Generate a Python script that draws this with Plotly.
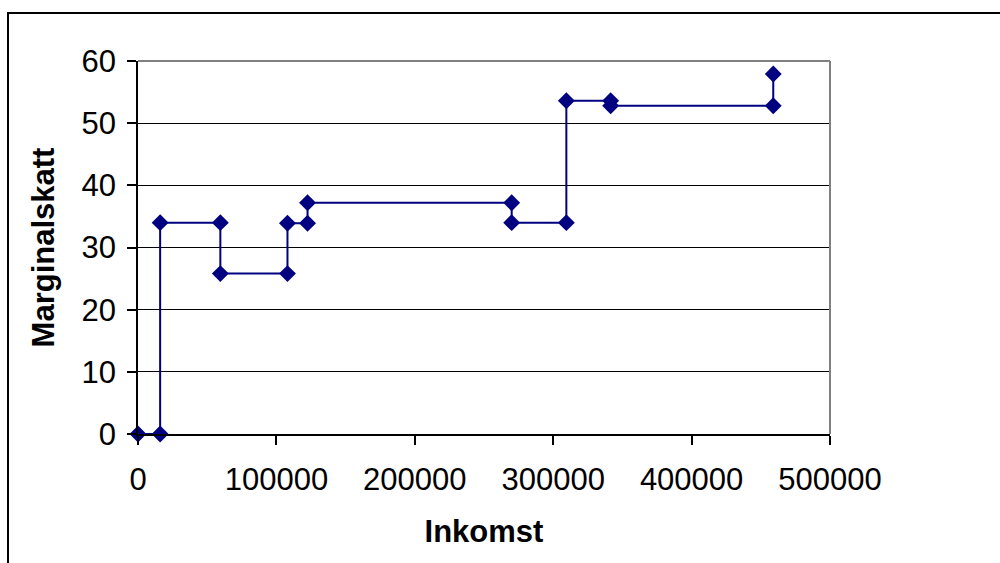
import plotly.graph_objects as go

# Data (Inkomst vs Marginalskatt, step-like path)
inkomst = [0, 16000, 16000, 59500, 59500, 108000, 108000, 122500, 122500,
           270000, 270000, 309500, 309500, 341500, 341500, 459000, 459000]
marginalskatt = [0, 0, 34, 34, 25.8, 25.8, 33.9, 33.9, 37.2,
                 37.2, 34, 34, 53.6, 53.6, 52.8, 52.8, 57.9]

x_ticks = [0, 100000, 200000, 300000, 400000, 500000]
x_ticklabels = ["0", "100000", "200000", "300000", "400000", "500000"]
y_ticks = [0, 10, 20, 30, 40, 50, 60]

FONT = "Liberation Sans, Arial, sans-serif"
NAVY = "#000080"

fig = go.Figure()
fig.add_trace(go.Scatter(
    x=inkomst, y=marginalskatt, mode="lines+markers",
    line=dict(color=NAVY, width=2),
    marker=dict(symbol="diamond", size=13, color=NAVY),
    cliponaxis=False, showlegend=False,
))

fig.update_layout(
    width=1000, height=563,
    margin=dict(l=138, r=170, t=61, b=129),
    paper_bgcolor="white", plot_bgcolor="white",
    font=dict(family=FONT, size=32, color="black"),
    xaxis=dict(
        range=[0, 500000], tickmode="array", tickvals=x_ticks, ticktext=x_ticklabels,
        showgrid=False, zeroline=False, showline=True, linecolor="black", linewidth=1.5,
        ticks="outside", ticklen=9, tickcolor="black", tickwidth=1.5,
        tickfont=dict(size=31), ticklabelstandoff=8, fixedrange=True,
        title=dict(text="<b>Inkomst</b>", font=dict(size=31), standoff=24),
    ),
    yaxis=dict(
        range=[0, 60], tickmode="array", tickvals=y_ticks,
        showgrid=True, gridcolor="black", gridwidth=1,
        zeroline=False, showline=True, linecolor="black", linewidth=1.5,
        ticks="outside", ticklen=9, tickcolor="black", tickwidth=1.5,
        tickfont=dict(size=31), ticklabelstandoff=5, fixedrange=True,
        title=dict(text="<b>Marginalskatt</b>", font=dict(size=31), standoff=18),
    ),
    shapes=[
        # gray plot-area border (top and right)
        dict(type="line", xref="paper", yref="paper", x0=0, x1=1, y0=1, y1=1,
             line=dict(color="#808080", width=2), layer="above"),
        dict(type="line", xref="paper", yref="paper", x0=1, x1=1, y0=0, y1=1,
             line=dict(color="#808080", width=2), layer="above"),
        # outer chart border
        dict(type="rect", xref="paper", yref="paper",
             x0=(8 - 138) / 692, x1=1.4, y0=-0.6, y1=(434 - 13) / 373,
             line=dict(color="black", width=2), fillcolor="rgba(0,0,0,0)", layer="below"),
    ],
)

fig.write_html("out.html")
